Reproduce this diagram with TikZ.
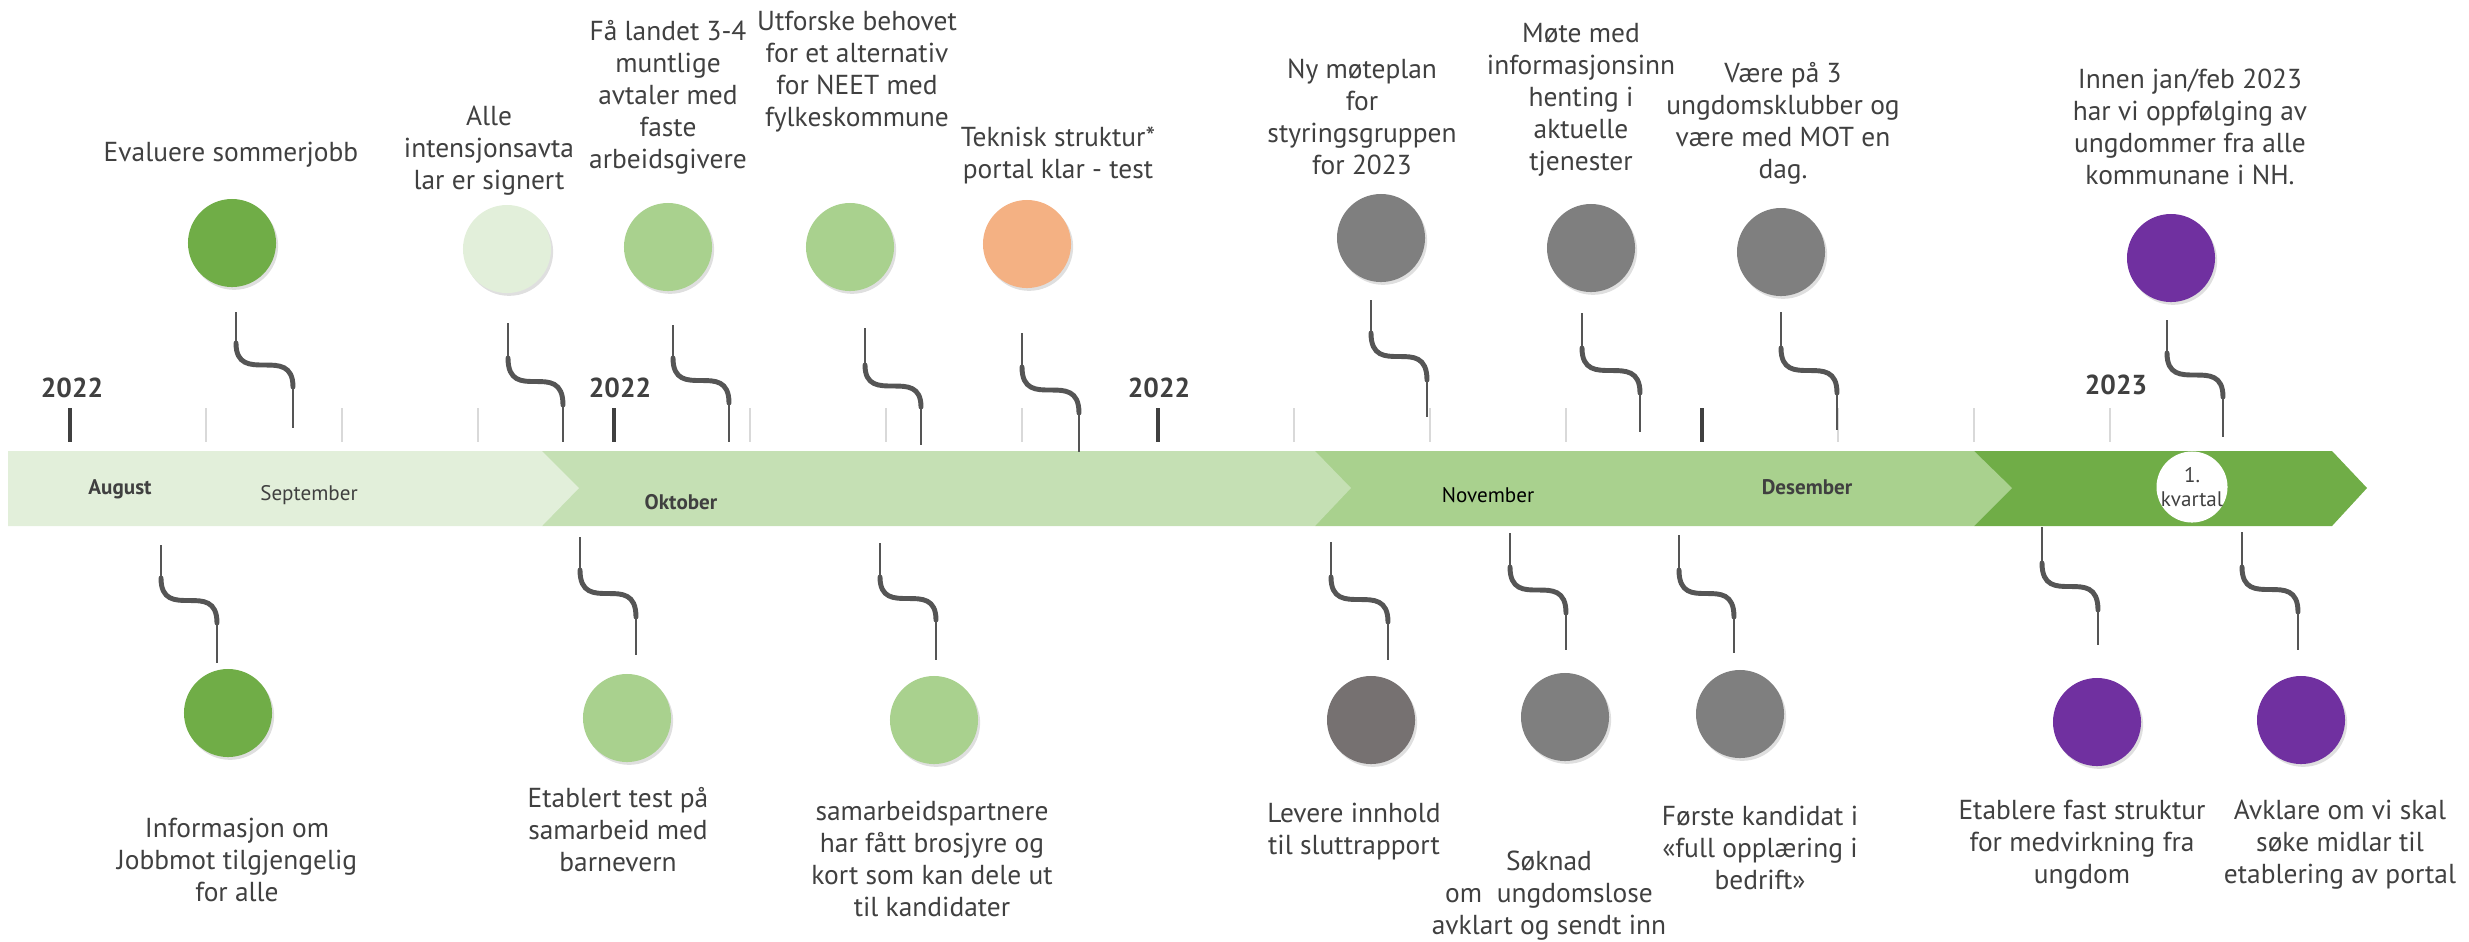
\documentclass[tikz,border=0pt]{standalone}
\usepackage{fontspec}
\setmainfont{PT Sans}
\usepackage{xcolor}
\usetikzlibrary{shadows}
\definecolor{pale}{HTML}{E2EFDA}
\definecolor{soft}{HTML}{C5E0B4}
\definecolor{sage}{HTML}{A9D18E}
\definecolor{leaf}{HTML}{70AD47}
\definecolor{peach}{HTML}{F4B183}
\definecolor{stone}{HTML}{7F7F7F}
\definecolor{taupe}{HTML}{767171}
\definecolor{plum}{HTML}{7030A0}
\definecolor{ink}{HTML}{404040}
\definecolor{wire}{HTML}{555555}

\newcommand{\lead}[6]{%
  \draw[stemline] (#1,#2) -- (#1,#3);
  \draw[swoop] (#1,#3) .. controls (#1,#5) and (#4,#3) .. (#4,#5);
  \draw[stemline] (#4,#5) -- (#4,#6);}

\begin{document}
\begin{tikzpicture}[x=0.01cm,y=-0.01cm,
  blurb/.style={align=center,text=ink,inner sep=0pt,font=\fontsize{7.8}{9.1}\selectfont},
  disc/.style={circle,minimum size=0.88cm,inner sep=0pt,
    drop shadow={shadow xshift=0.6pt,shadow yshift=-0.8pt,opacity=0.25}},
  monthtag/.style={text=ink,inner sep=0pt,font=\fontsize{6}{7}\selectfont},
  yeartag/.style={text=ink,inner sep=0pt,font=\fontsize{7.8}{9}\selectfont\bfseries},
  stemline/.style={wire,line width=0.8pt},
  swoop/.style={wire,line width=1.4pt,line cap=round},
  faint/.style={black!15,line width=0.3pt},
  tickmark/.style={ink,line width=0.9pt}]
  \useasboundingbox (0,0) rectangle (2469,941);

  \fill[leaf] (1974,451) -- (2332,451) -- (2367,488) -- (2332,526) -- (1974,526) -- cycle;
  \fill[sage] (1315,451) -- (1974,451) -- (2012,488) -- (1974,526) -- (1315,526) -- cycle;
  \fill[soft] (542,451) -- (1315,451) -- (1351,488) -- (1315,526) -- (542,526) -- cycle;
  \fill[pale] (8,451) -- (542,451) -- (579,488) -- (542,526) -- (8,526) -- cycle;

  \foreach \i in {0,...,15}
    \draw[faint] ({70+136*\i},408) -- ({70+136*\i},442);
  \foreach \i in {0,4,8,12}
    \draw[tickmark] ({70+136*\i},408) -- ({70+136*\i},442);

  \node[yeartag] (y1) at (72,388)   {2022};
  \node[yeartag] (y2) at (620,388)  {2022};
  \node[yeartag] (y3) at (1159,388) {2022};
  \node[yeartag] (y4) at (2116,385) {2023};

  \node[monthtag,font=\fontsize{6}{7}\selectfont\bfseries] (aug) at (120,489) {August};
  \node[monthtag] (sep) at (309,495) {September};
  \node[monthtag,font=\fontsize{6}{7}\selectfont\bfseries] (okt) at (681,502) {Oktober};
  \node[monthtag,text=black] (nov) at (1488,495) {November};
  \node[monthtag,font=\fontsize{6}{7}\selectfont\bfseries] (des) at (1807,487) {Desember};
  \node[circle,fill=white,minimum size=0.71cm,inner sep=0pt] (qtr) at (2192,487) {};
  \node[monthtag,align=center,font=\fontsize{6}{6.8}\selectfont] (kv) at (qtr) {1.\\kvartal};

  \node[disc,fill=leaf]  (c1) at (232,243)  {};
  \node[disc,fill=pale]  (c2) at (507,249)  {};
  \node[disc,fill=sage]  (c3) at (668,247)  {};
  \node[disc,fill=sage]  (c4) at (850,247)  {};
  \node[disc,fill=peach] (c5) at (1027,244) {};
  \node[disc,fill=stone] (c6) at (1381,238) {};
  \node[disc,fill=stone] (c7) at (1591,248) {};
  \node[disc,fill=stone] (c8) at (1781,252) {};
  \node[disc,fill=plum]  (c9) at (2171,258) {};
  \node[disc,fill=leaf]  (c10) at (228,713)  {};
  \node[disc,fill=sage]  (c11) at (627,718)  {};
  \node[disc,fill=sage]  (c12) at (934,720)  {};
  \node[disc,fill=taupe] (c13) at (1371,720) {};
  \node[disc,fill=stone] (c14) at (1565,717) {};
  \node[disc,fill=stone] (c15) at (1740,714) {};
  \node[disc,fill=plum]  (c16) at (2097,722) {};
  \node[disc,fill=plum]  (c17) at (2301,720) {};

  \node[blurb] (t1) at (231,155)  {Evaluere sommerjobb};
  \node[blurb] (t2) at (489,151)  {Alle\\intensjonsavta\\lar er signert};
  \node[blurb] (t3) at (668,97)   {Få landet 3-4\\muntlige\\avtaler med\\faste\\arbeidsgivere};
  \node[blurb] (t4) at (857,72)   {Utforske behovet\\for et alternativ\\for NEET med\\fylkeskommune};
  \node[blurb] (t5) at (1058,155) {Teknisk struktur*\\portal klar - test};
  \node[blurb] (t6) at (1362,117) {Ny møteplan\\for\\styringsgruppen\\for 2023};
  \node[blurb] (t7) at (1581,100) {Møte med\\informasjonsinn\\henting i\\aktuelle\\tjenester};
  \node[blurb] (t8) at (1783,123) {Være på 3\\ungdomsklubber og\\være med MOT en\\dag.};
  \node[blurb] (t9) at (2190,127) {Innen jan/feb 2023\\har vi oppfølging av\\ungdommer fra alle\\kommunane i NH.};
  \node[blurb] (t10) at (237,860)  {Informasjon om\\Jobbmot tilgjengelig\\for alle};
  \node[blurb] (t11) at (618,830)  {Etablert test på\\samarbeid med\\barnevern};
  \node[blurb] (t12) at (932,859)  {samarbeidspartnere\\har fått brosjyre og\\kort som kan dele ut\\til kandidater};
  \node[blurb] (t13) at (1354,832) {Levere innhold\\til sluttrapport};
  \node[blurb] (t14) at (1549,896) {Søknad\\om\ \ ungdomslose\\avklart og sendt inn};
  \node[blurb] (t15) at (1760,848) {Første kandidat i\\«full opplæring i\\bedrift»};
  \node[blurb] (t16) at (2082,845) {Etablere fast struktur\\for medvirkning fra\\ungdom};
  \node[blurb] (t17) at (2340,845) {Avklare om vi skal\\søke midlar til\\etablering av portal};

  \lead{236}{312}{343}{293}{387}{428}
  \lead{508}{323}{358}{563}{405}{442}
  \lead{673}{325}{358}{729}{403}{442}
  \lead{865}{328}{365}{921}{407}{445}
  \lead{1022}{333}{367}{1079}{413}{452}
  \lead{1371}{300}{333}{1427}{380}{417}
  \lead{1582}{313}{348}{1640}{393}{432}
  \lead{1781}{312}{348}{1837}{393}{430}
  \lead{2167}{320}{353}{2223}{397}{437}
  \lead{161}{545}{578}{217}{623}{663}
  \lead{580}{537}{570}{636}{617}{655}
  \lead{880}{543}{577}{936}{620}{660}
  \lead{1331}{542}{577}{1388}{622}{660}
  \lead{1510}{533}{567}{1566}{613}{650}
  \lead{1679}{535}{570}{1734}{617}{653}
  \lead{2042}{527}{563}{2098}{610}{645}
  \lead{2242}{532}{567}{2298}{612}{650}
\end{tikzpicture}
\end{document}
